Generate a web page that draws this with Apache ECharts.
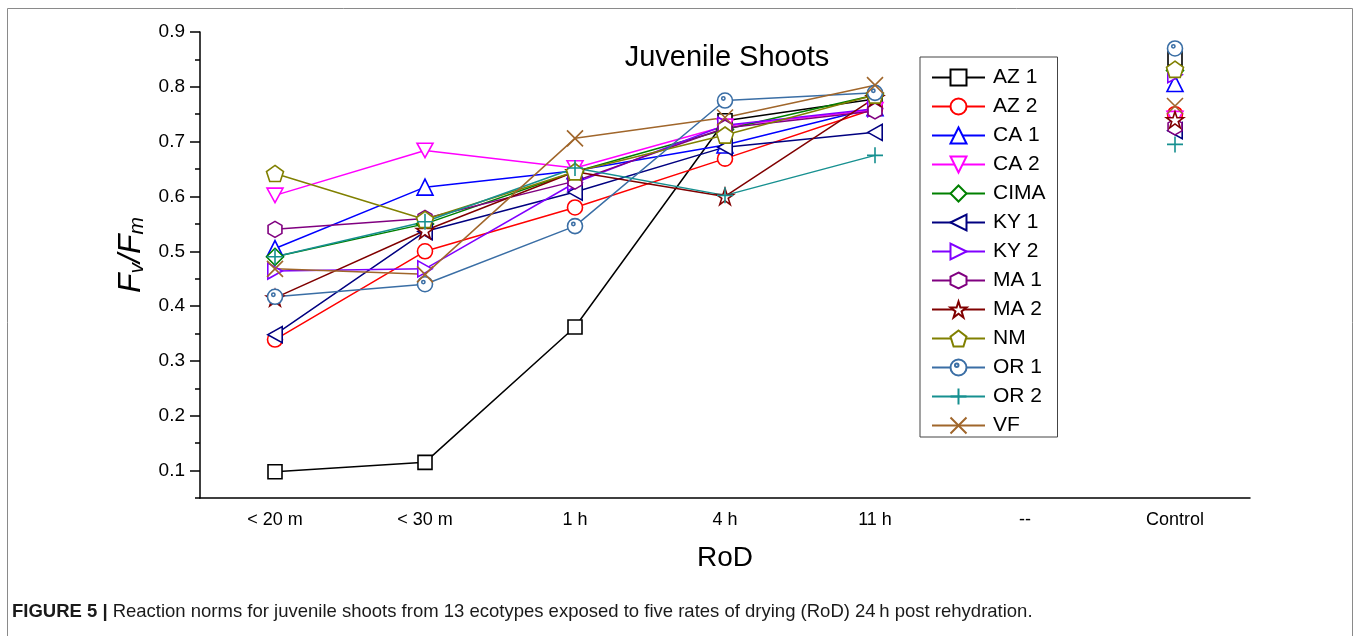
<!DOCTYPE html>
<html>
<head>
<meta charset="utf-8">
<script src="https://cdn.jsdelivr.net/npm/echarts@6/dist/echarts.min.js"></script>
<style>
  html, body { margin: 0; padding: 0; background: #fff; }
  #main { width: 1360px; height: 636px; }
</style>
</head>
<body>
<div id="main"></div>
<script>
// categories (rates of drying)
const categories = ["< 20 m", "< 30 m", "1 h", "4 h", "11 h", "--", "Control"];
const yMajorTicks = [0.1, 0.2, 0.3, 0.4, 0.5, 0.6, 0.7, 0.8, 0.9];
const yMinorTicks = [0.05, 0.15, 0.25, 0.35, 0.45, 0.55, 0.65, 0.75, 0.85];

// Fv/Fm per ecotype, one value per category ("--" is empty)
const az1 = [0.098, 0.115, 0.362, 0.738, 0.778, null, 0.852];
const az2 = [0.339, 0.500, 0.580, 0.669, 0.760, null, 0.750];
const ca1 = [0.505, 0.617, 0.647, 0.694, 0.762, null, 0.806];
const ca2 = [0.602, 0.684, 0.652, 0.728, 0.758, null, 0.742];
const cima = [0.490, 0.550, 0.645, 0.722, 0.785, null, 0.830];
const ky1 = [0.348, 0.536, 0.608, 0.690, 0.717, null, 0.720];
const ky2 = [0.464, 0.468, 0.625, 0.730, 0.760, null, 0.822];
const ma1 = [0.540, 0.560, 0.628, 0.725, 0.756, null, 0.727];
const ma2 = [0.415, 0.538, 0.645, 0.600, 0.780, null, 0.740];
const nm = [0.642, 0.558, 0.645, 0.712, 0.785, null, 0.832];
const or1 = [0.417, 0.440, 0.546, 0.775, 0.789, null, 0.870];
const or2 = [0.490, 0.554, 0.652, 0.602, 0.675, null, 0.695];
const vf = [0.468, 0.458, 0.706, 0.744, 0.803, null, 0.765];

const sym = {
  square: "rect",
  circle: "circle",
  up: "triangle",
  down: "path://M0,0L10,0L5,9Z",
  diamond: "diamond",
  left: "path://M0,5L9,0L9,10Z",
  right: "path://M9,5L0,0L0,10Z",
  hexagon: "path://M5,0L9.33,2.5L9.33,7.5L5,10L0.67,7.5L0.67,2.5Z",
  star: "path://M5,0L6.18,3.6L9.96,3.6L6.9,5.83L8.07,9.44L5,7.2L1.93,9.44L3.1,5.83L0.04,3.6L3.82,3.6Z",
  pentagon: "path://M5,0L9.76,3.45L7.94,9.05L2.06,9.05L0.24,3.45Z",
  dotCircle: "path://M0,5A5,5 0 1 1 10,5A5,5 0 1 1 0,5Z M2.8,3.6A1.1,1.1 0 1 1 5,3.6A1.1,1.1 0 1 1 2.8,3.6Z",
  plus: "path://M5,0L5,10M0,5L10,5",
  cross: "path://M0,0L10,10M10,0L0,10"
};

const seriesDefs = [
  ["AZ 1", az1, "#000000", sym.square, 14],
  ["AZ 2", az2, "#ff0000", sym.circle, 15],
  ["CA 1", ca1, "#0000ff", sym.up, 16],
  ["CA 2", ca2, "#ff00ff", sym.down, 16],
  ["CIMA", cima, "#008000", sym.diamond, 17],
  ["KY 1", ky1, "#000080", sym.left, 16],
  ["KY 2", ky2, "#8000ff", sym.right, 16],
  ["MA 1", ma1, "#800080", sym.hexagon, 16],
  ["MA 2", ma2, "#800000", sym.star, 17],
  ["NM", nm, "#808000", sym.pentagon, 17],
  ["OR 1", or1, "#3a6ea5", sym.dotCircle, 15],
  ["OR 2", or2, "#169090", sym.plus, 16],
  ["VF", vf, "#a0662b", sym.cross, 16]
];

const font = "Liberation Sans";

let option = {
  animation: false,
  textStyle: { fontFamily: font },
  title: [
    {
      text: "Juvenile Shoots",
      left: 722,
      top: 38,
      textAlign: "center",
      textStyle: { fontSize: 29, fontWeight: "normal", color: "#000", fontFamily: font },
    },
    {
      text: "{b|FIGURE 5 |} {n|Reaction norms for juvenile shoots from 13 ecotypes exposed to five rates of drying (RoD) 24\u2009h post rehydration.}",
      left: 12,
      top: 602,
      padding: 0,
      textStyle: {
        rich: {
          b: { fontSize: 18.5, fontWeight: "bold", color: "#1a1a1a", fontFamily: font },
          n: { fontSize: 18.5, fontWeight: "normal", color: "#1a1a1a", fontFamily: font },
        },
      },
    },
  ],
  graphic: [
    {
      type: "rect",
      shape: { x: 7.5, y: 8.5, width: 1345, height: 660 },
      style: { fill: "none", stroke: "#8a8a8a", lineWidth: 1 },
      silent: true,
    },
  ],
  grid: {
    left: 200,
    right: 110,
    top: 32,
    bottom: 138,
    outerBoundsMode: "none",
  },
  legend: {
    orient: "vertical",
    left: 920,
    top: 57,
    itemWidth: 53,
    itemHeight: 20,
    itemGap: 8,
    padding: [10, 12, 1, 11],
    borderColor: "#444",
    borderWidth: 1,
    textStyle: { fontSize: 21, color: "#000", fontFamily: font, padding: [0, 0, 0, 3] },
    data: seriesDefs.map((d) => d[0]),
  },
  xAxis: [
    {
      type: "category",
      data: categories,
      boundaryGap: true,
      axisLine: { lineStyle: { color: "#000", width: 1.5 } },
      axisTick: { alignWithLabel: true, length: 8, lineStyle: { color: "#000", width: 1.5 } },
      axisLabel: { fontSize: 18, color: "#000", margin: 13 },
      name: "RoD",
      nameLocation: "middle",
      nameGap: 46,
      nameTextStyle: { fontSize: 28, color: "#000" },
    },
    {
      type: "category",
      data: categories,
      position: "bottom",
      boundaryGap: true,
      axisLine: { show: false },
      axisTick: { length: 4, interval: 0, lineStyle: { color: "#000", width: 1.5 } },
      axisLabel: { show: false },
    },
  ],
  yAxis: [
    {
      type: "value",
      position: "left",
      min: 0.05,
      max: 0.9,
      splitLine: { show: false },
      axisLine: { show: true, lineStyle: { color: "#000", width: 1.5 } },
      axisTick: { show: true, length: 10, customValues: yMajorTicks, lineStyle: { color: "#000", width: 1.5 } },
      axisLabel: {
        fontSize: 19,
        color: "#000",
        margin: 15,
        customValues: yMajorTicks,
        formatter: (v) => v.toFixed(1),
      },
      name: "{i|F}{s|v}{i|/F}{s|m}",
      nameLocation: "middle",
      nameGap: 50,
      nameRotate: 90,
      nameTextStyle: {
        padding: [0, 0, 0, 20],
        rich: {
          i: { fontSize: 32, fontStyle: "italic", color: "#000", fontFamily: font, lineHeight: 34, verticalAlign: "middle" },
          s: { fontSize: 21, fontStyle: "italic", color: "#000", fontFamily: font, lineHeight: 12, verticalAlign: "bottom" },
        },
      },
    },
    {
      type: "value",
      position: "left",
      min: 0.05,
      max: 0.9,
      splitLine: { show: false },
      axisLine: { show: false },
      axisTick: { show: true, length: 5, customValues: yMinorTicks, lineStyle: { color: "#000", width: 1.5 } },
      axisLabel: { show: false },
    },
  ],
  series: seriesDefs.map(([name, data, color, symbol, size]) => ({
    name: name,
    type: "line",
    data: data,
    xAxisIndex: 0,
    yAxisIndex: 0,
    connectNulls: false,
    symbol: symbol,
    symbolSize: size,
    symbolKeepAspect: true,
    showAllSymbol: true,
    lineStyle: { color: color, width: 1.5 },
    itemStyle: { color: "#fff", borderColor: color, borderWidth: 1.6 },
    emphasis: { disabled: true },
  })),
};

let chartDom = document.getElementById("main");
let myChart = echarts.init(chartDom);
option && myChart.setOption(option);
</script>
</body>
</html>
